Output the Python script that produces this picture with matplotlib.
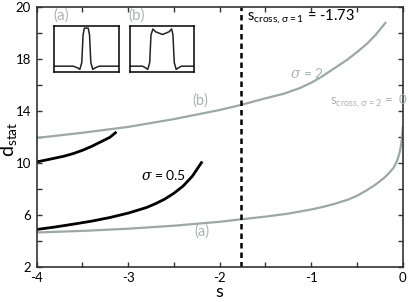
import matplotlib
matplotlib.use("Agg")
import matplotlib.pyplot as plt
import numpy as np

plt.rcParams['font.family'] = ['Lato', 'DejaVu Sans']
plt.rcParams['mathtext.fontset'] = 'custom'
plt.rcParams['mathtext.rm'] = 'Lato'
plt.rcParams['mathtext.it'] = 'DejaVu Serif:italic'

# curve (a), sigma = 2, grey lower
s_a = [-4.0, -3.5, -3.0, -2.5, -2.0, -1.78, -1.5, -1.25, -1.0, -0.9, -0.76, -0.6, -0.5, -0.4,
       -0.3, -0.2, -0.15, -0.1, -0.07, -0.05, -0.03, -0.02, -0.01, -0.004, 0.0]
d_a = [4.63, 4.75, 4.92, 5.15, 5.45, 5.63, 5.85, 6.08, 6.4, 6.55, 6.8, 7.15, 7.45, 7.85,
       8.3, 8.85, 9.2, 9.6, 10.0, 10.4, 10.9, 11.3, 11.8, 12.3, 12.7]

# curve (b), sigma = 2, grey upper
s_b = [-4.0, -3.5, -3.0, -2.5, -2.25, -2.0, -1.78, -1.5, -1.3, -1.12, -1.0, -0.9,
       -0.76, -0.6, -0.5, -0.39, -0.3, -0.19]
d_b = [11.9, 12.3, 12.75, 13.35, 13.7, 14.05, 14.42, 14.95, 15.3, 15.75, 16.15, 16.55,
       17.2, 17.95, 18.5, 19.15, 19.8, 20.75]

# sigma = 0.5, black lower
s_c = [-4.0, -3.8, -3.6, -3.4, -3.2, -3.0, -2.8, -2.7, -2.6, -2.5, -2.4, -2.3, -2.2]
d_c = [4.86, 5.05, 5.27, 5.5, 5.78, 6.12, 6.55, 6.85, 7.2, 7.65, 8.2, 8.95, 10.0]

# sigma = 0.5, black upper
s_d = [-4.0, -3.9, -3.8, -3.7, -3.6, -3.5, -3.4, -3.3, -3.2, -3.14]
d_d = [10.06, 10.2, 10.35, 10.5, 10.7, 10.95, 11.25, 11.6, 11.95, 12.3]

s_cross = -1.77

# inset profiles (normalised)
ins_a_x = [0.0, 0.3, 0.37, 0.40, 0.43, 0.45, 0.47, 0.53, 0.55, 0.57, 0.60, 0.63, 0.70, 1.0]
ins_a_y = [0.12, 0.12, 0.08, 0.05, 0.2, 0.8, 0.95, 0.95, 0.8, 0.2, 0.05, 0.08, 0.12, 0.12]
ins_b_x = [0.0, 0.2, 0.25, 0.28, 0.31, 0.33, 0.36, 0.40, 0.51, 0.61, 0.65, 0.67, 0.69, 0.72, 0.75, 0.80, 1.0]
ins_b_y = [0.12, 0.12, 0.08, 0.05, 0.2, 0.8, 0.93, 0.87, 0.81, 0.87, 0.93, 0.8, 0.2, 0.05, 0.08, 0.12, 0.12]

grey = '#9ba8a8'
tgrey = '#aab3b3'

fig = plt.figure(figsize=(4.09, 3.02), dpi=100)
ax = fig.add_axes([0.0897, 0.117, 0.895, 0.861])

ax.plot(s_a, d_a, color=grey, lw=1.6)
ax.plot(s_b, d_b, color=grey, lw=1.6)
ax.plot(s_c, d_c, color='black', lw=2.0)
ax.plot(s_d, d_d, color='black', lw=2.0)
ax.axvline(s_cross, color='black', lw=1.8, ls=(0, (2.2, 1.6)))

ax.set_xlim(-4, 0)
ax.set_ylim(2, 22)
ax.set_xticks(np.arange(-4, 0.01, 0.5))
ax.set_xticklabels(['-4', '', '-3', '', '-2', '', '-1', '', '0'])
ax.set_yticks(np.arange(2, 22.1, 2))
ax.set_yticklabels(['2', '', '6', '', '10', '', '14', '', '18', '', '20'])
ax.tick_params(direction='in', length=3.5, width=1, top=True, right=True,
               labelsize=9.5, pad=4, color='#333333')
for sp in ax.spines.values():
    sp.set_linewidth(1.2)
    sp.set_color('#333333')

ax.set_xlabel('s', fontsize=13)
ax.xaxis.set_label_coords(0.5, -0.068)
ax.set_ylabel(r'$\mathregular{d_{stat}}$', fontsize=14)
ax.yaxis.set_label_coords(-0.047, 0.49)

ax.text(-1.70, 21.3, r'$\mathregular{s_{cross,\sigma=1}}$ = -1.73', fontsize=10.5,
        va='center', ha='left', color='black')
ax.text(-1.05, 16.9, r'$\sigma$ = 2', fontsize=10, color=tgrey, ha='center', va='center')
ax.text(-0.37, 14.7, r'$\mathregular{s_{cross,\sigma=2}}$ =  0', fontsize=9.5, color=tgrey,
        ha='center', va='center')
ax.text(-2.21, 14.8, '(b)', fontsize=10.5, color=tgrey, ha='center', va='center')
ax.text(-2.19, 4.7, '(a)', fontsize=10.5, color=tgrey, ha='center', va='center')
ax.text(-2.61, 9.05, r'$\sigma$ = 0.5', fontsize=10, color='black', ha='center', va='center')

# insets
for left, xs, ys, lab in [(0.132, ins_a_x, ins_a_y, '(a)'), (0.317, ins_b_x, ins_b_y, '(b)')]:
    iax = fig.add_axes([left, 0.7626, 0.158, 0.152])
    iax.plot(xs, ys, color='#222222', lw=1.1)
    iax.set_xlim(0, 1)
    iax.set_ylim(0, 1)
    iax.set_xticks([])
    iax.set_yticks([])
    for sp in iax.spines.values():
        sp.set_linewidth(1.1)
    fig.text(left - 0.002, 0.95, lab, fontsize=11, color=tgrey, ha='left', va='center')

fig.savefig('out.png', dpi=100)
